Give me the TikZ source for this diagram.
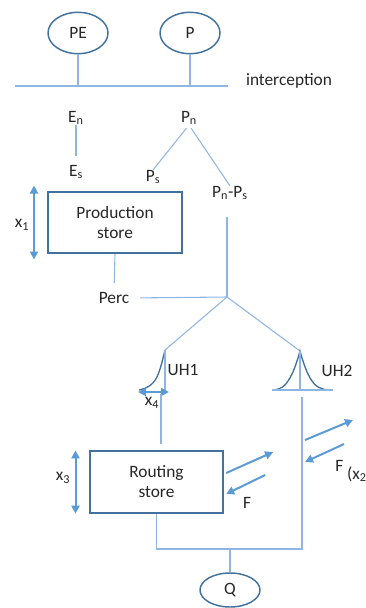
\documentclass[tikz,border=0pt]{standalone}
\usepackage{fontspec}
\setmainfont{Carlito}
\usetikzlibrary{shapes.geometric,arrows.meta}
\definecolor{lineBlue}{HTML}{8FB5E2}
\definecolor{arrowBlue}{HTML}{5B9BD5}
\definecolor{edgeBlue}{HTML}{41719C}
\definecolor{txt}{HTML}{262626}

\begin{document}
\begin{tikzpicture}
        [x=0.75pt, y=-0.75pt, font=\fontsize{13}{15}\selectfont, text=txt,
        oval/.style={ellipse, draw=edgeBlue, line width=1.1pt, minimum width=45pt, minimum height=31pt, inner sep=0pt},
        store/.style={rectangle, draw=edgeBlue, line width=1.5pt, minimum width=100pt, minimum height=46pt, align=center},
        lbl/.style={inner sep=0pt},
        line/.style={draw=lineBlue, line width=0.8pt},
        uh/.style={draw=edgeBlue, line width=1pt},
        arr/.style={draw=arrowBlue, line width=1.5pt, -{Triangle[length=6pt,width=6pt]}},
        darr/.style={draw=arrowBlue, line width=1.5pt, {Triangle[length=6pt,width=6pt]}-{Triangle[length=6pt,width=6pt]}}]
        \useasboundingbox (0,0) rectangle (365,608);

        \node[oval] (PE) at (78,33) {PE};
        \node[oval] (P) at (190,33) {P};
        \coordinate (iL) at (15,86);
        \coordinate (iR) at (228,86);
        \node[lbl] (icp) at (289,81) {interception};
        \node[lbl] (En) at (76,118) {E\textsubscript{n}};
        \node[lbl] (Es) at (76,172) {E\textsubscript{s}};
        \node[lbl] (Pn) at (189,118) {P\textsubscript{n}};
        \node[lbl] (Ps) at (153,177) {P\textsubscript{s}};
        \node[lbl] (PnPs) at (230,193) {P\textsubscript{n}-P\textsubscript{s}};
        \node[store] (PS) at (115,222.5) {Production\\store};
        \node[lbl] (x1) at (22,225) {x\textsubscript{1}};
        \node[lbl] (Perc) at (114,298) {Perc};
        \coordinate (jn) at (227,297);
        \coordinate (uh1) at (165,350);
        \coordinate (uh2) at (300,351);
        \coordinate (uh2L) at (272,390);
        \coordinate (uh2R) at (333,390);
        \coordinate (x4L) at (138,392);
        \coordinate (x4R) at (169,392);
        \coordinate (x4b) at (161,394);
        \node[lbl] (UHa) at (183,370) {UH1};
        \node[lbl] (UHb) at (337,371) {UH2};
        \node[lbl] (x4) at (152,403) {x\textsubscript{4}};
        \node[store] (RS) at (156.5,482) {Routing\\store};
        \node[lbl] (x3) at (63,478) {x\textsubscript{3}};
        \node[lbl] (F) at (247,503) {F};
        \node[lbl, anchor=west] (Fx) at (335,471) {F\raisebox{-0.9ex}{ (x\textsubscript{2})}};
        \coordinate (r1) at (302,397);
        \coordinate (r2) at (302,549);
        \node[oval, minimum height=25.5pt] (Q) at (230,590) {Q};

        \draw[line] (iL) -- (iR);
        \draw[line] (PE) -- (PE |- iL);
        \draw[line] (P) -- (P |- iL);
        \draw[line, shorten >=7pt] (En) -- (Es);
        \draw[line, shorten <=3pt] (Pn.south) -- (Ps.north);
        \draw[line, shorten <=3pt] (Pn.south) -- (PnPs.north);
        \draw[line, shorten <=13pt] (PnPs.south -| jn) -- (jn);
        \draw[line, shorten >=7pt] (PS.south) -- (Perc.north);
        \draw[line, shorten <=8pt] (Perc.east) -- (jn);
        \draw[line] (jn) -- (uh1);
        \draw[line] (jn) -- (uh2);

        % unit hydrographs
        \draw[uh] (uh1) .. controls (163,358) and (161,368) .. (157,377) .. controls (153,385) and (146,389) .. (139,390);
        \draw[line] (uh1) -- (uh1 |- x4L);
        \draw[darr] (x4L) -- (x4R);
        \draw[uh] (274,390) .. controls (281,389) and (285,386) .. (288,381) .. controls (293,374) and (297,362) .. (uh2)
            .. controls (303,362) and (307,374) .. (312,381) .. controls (315,386) and (320,389) .. (328,390);
        \draw[line] (uh2L) -- (uh2R);
        \draw[line] (uh2) -- (uh2 |- uh2L);

        \draw[line, shorten >=5pt] (x4b) -- (x4b |- RS.north);
        \draw[darr] ([shift={(-10pt,4pt)}]PS.north west) -- ([shift={(-10pt,-4pt)}]PS.south west);
        \draw[darr] ([xshift=-10pt]RS.north west) -- ([xshift=-10pt]RS.south west);
        \draw[arr] ([shift={(2,-9)}]RS.east) -- ++(47,-21);
        \draw[arr] ([shift={(41,-7)}]RS.east) -- ([shift={(2,12)}]RS.east);
        \draw[arr] (305,440) -- (353,420);
        \draw[arr] (344,444) -- (305,462);

        \draw[line] (RS.south) |- (r2) -- (r1);
        \draw[line] (Q) -- (Q |- r2);
    \end{tikzpicture}
\end{document}
